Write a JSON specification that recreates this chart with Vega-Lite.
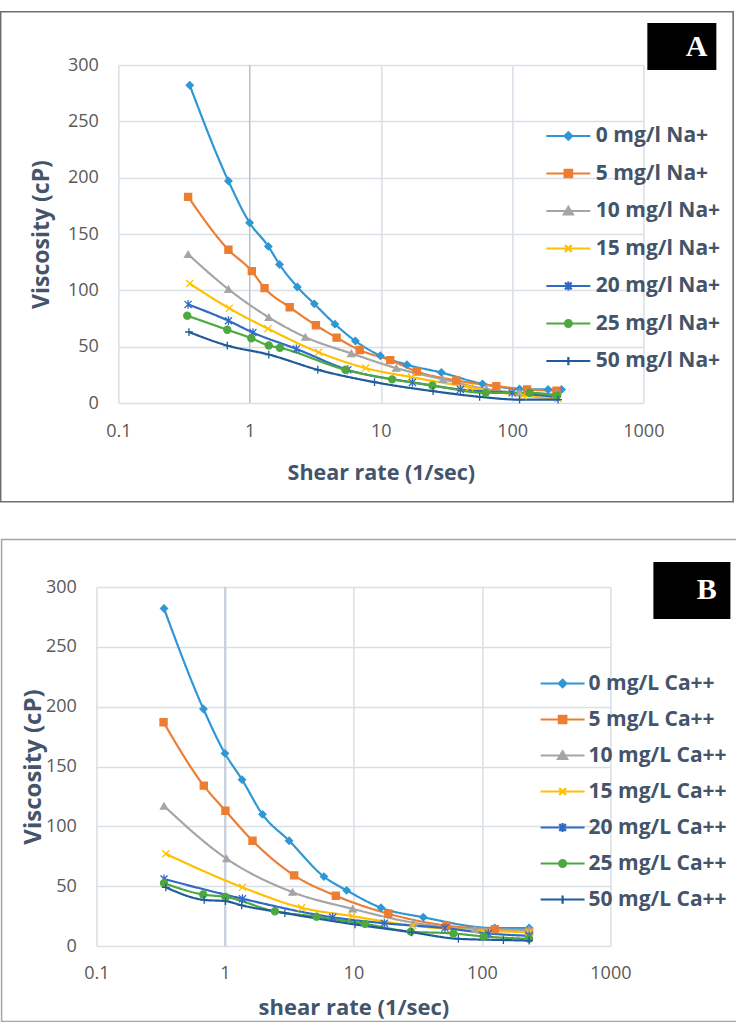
{
  "$schema": "https://vega.github.io/schema/vega-lite/v6.json",
  "background": "white",
  "padding": {"left": 0, "top": 11, "right": 0, "bottom": 0},
  "spacing": 36,
  "center": true,
  "resolve": {"scale": {"color": "independent", "fill": "independent", "stroke": "independent", "shape": "independent", "strokeDash": "independent", "x": "independent", "y": "independent"},
              "legend": {"color": "independent", "fill": "independent", "stroke": "independent", "shape": "independent", "strokeDash": "independent"}},
  "datasets": {
    "na": [
      {"series": "0 mg/l Na+", "shear": 0.35, "viscosity": 282},
      {"series": "0 mg/l Na+", "shear": 0.69, "viscosity": 197},
      {"series": "0 mg/l Na+", "shear": 1.0, "viscosity": 160},
      {"series": "0 mg/l Na+", "shear": 1.39, "viscosity": 139},
      {"series": "0 mg/l Na+", "shear": 1.69, "viscosity": 123},
      {"series": "0 mg/l Na+", "shear": 2.31, "viscosity": 103},
      {"series": "0 mg/l Na+", "shear": 3.11, "viscosity": 88},
      {"series": "0 mg/l Na+", "shear": 4.47, "viscosity": 70},
      {"series": "0 mg/l Na+", "shear": 6.4, "viscosity": 55},
      {"series": "0 mg/l Na+", "shear": 9.9, "viscosity": 42},
      {"series": "0 mg/l Na+", "shear": 15.8, "viscosity": 34},
      {"series": "0 mg/l Na+", "shear": 28.9, "viscosity": 27},
      {"series": "0 mg/l Na+", "shear": 59.4, "viscosity": 17},
      {"series": "0 mg/l Na+", "shear": 114, "viscosity": 12.5},
      {"series": "0 mg/l Na+", "shear": 188, "viscosity": 12},
      {"series": "0 mg/l Na+", "shear": 238, "viscosity": 12},
      {"series": "5 mg/l Na+", "shear": 0.34, "viscosity": 183},
      {"series": "5 mg/l Na+", "shear": 0.69, "viscosity": 136},
      {"series": "5 mg/l Na+", "shear": 1.04, "viscosity": 117},
      {"series": "5 mg/l Na+", "shear": 1.3, "viscosity": 102},
      {"series": "5 mg/l Na+", "shear": 2.02, "viscosity": 85},
      {"series": "5 mg/l Na+", "shear": 3.2, "viscosity": 69},
      {"series": "5 mg/l Na+", "shear": 4.6, "viscosity": 58},
      {"series": "5 mg/l Na+", "shear": 6.9, "viscosity": 47},
      {"series": "5 mg/l Na+", "shear": 11.8, "viscosity": 38},
      {"series": "5 mg/l Na+", "shear": 18.8, "viscosity": 28},
      {"series": "5 mg/l Na+", "shear": 37.6, "viscosity": 20},
      {"series": "5 mg/l Na+", "shear": 75.9, "viscosity": 15},
      {"series": "5 mg/l Na+", "shear": 130, "viscosity": 12},
      {"series": "5 mg/l Na+", "shear": 218, "viscosity": 11},
      {"series": "10 mg/l Na+", "shear": 0.34, "viscosity": 132},
      {"series": "10 mg/l Na+", "shear": 0.69, "viscosity": 101},
      {"series": "10 mg/l Na+", "shear": 1.4, "viscosity": 76},
      {"series": "10 mg/l Na+", "shear": 2.66, "viscosity": 58.5},
      {"series": "10 mg/l Na+", "shear": 5.96, "viscosity": 44},
      {"series": "10 mg/l Na+", "shear": 13.1, "viscosity": 31},
      {"series": "10 mg/l Na+", "shear": 29.7, "viscosity": 21},
      {"series": "10 mg/l Na+", "shear": 63.7, "viscosity": 12.5},
      {"series": "10 mg/l Na+", "shear": 114, "viscosity": 9},
      {"series": "10 mg/l Na+", "shear": 218, "viscosity": 8},
      {"series": "15 mg/l Na+", "shear": 0.35, "viscosity": 106},
      {"series": "15 mg/l Na+", "shear": 0.7, "viscosity": 84},
      {"series": "15 mg/l Na+", "shear": 1.38, "viscosity": 66},
      {"series": "15 mg/l Na+", "shear": 3.36, "viscosity": 45},
      {"series": "15 mg/l Na+", "shear": 7.66, "viscosity": 31},
      {"series": "15 mg/l Na+", "shear": 17.1, "viscosity": 23},
      {"series": "15 mg/l Na+", "shear": 47.5, "viscosity": 14},
      {"series": "15 mg/l Na+", "shear": 121, "viscosity": 6.5},
      {"series": "15 mg/l Na+", "shear": 224, "viscosity": 4},
      {"series": "20 mg/l Na+", "shear": 0.34, "viscosity": 87.5},
      {"series": "20 mg/l Na+", "shear": 0.69, "viscosity": 73},
      {"series": "20 mg/l Na+", "shear": 1.06, "viscosity": 62.5},
      {"series": "20 mg/l Na+", "shear": 2.27, "viscosity": 48},
      {"series": "20 mg/l Na+", "shear": 5.6, "viscosity": 29.5},
      {"series": "20 mg/l Na+", "shear": 17.4, "viscosity": 18.3},
      {"series": "20 mg/l Na+", "shear": 40.4, "viscosity": 12},
      {"series": "20 mg/l Na+", "shear": 100, "viscosity": 9},
      {"series": "20 mg/l Na+", "shear": 218, "viscosity": 5.5},
      {"series": "25 mg/l Na+", "shear": 0.335, "viscosity": 77.5},
      {"series": "25 mg/l Na+", "shear": 0.676, "viscosity": 65},
      {"series": "25 mg/l Na+", "shear": 1.03, "viscosity": 57.5},
      {"series": "25 mg/l Na+", "shear": 1.4, "viscosity": 51},
      {"series": "25 mg/l Na+", "shear": 1.7, "viscosity": 49},
      {"series": "25 mg/l Na+", "shear": 5.37, "viscosity": 29.5},
      {"series": "25 mg/l Na+", "shear": 12.2, "viscosity": 21},
      {"series": "25 mg/l Na+", "shear": 24.7, "viscosity": 15.6},
      {"series": "25 mg/l Na+", "shear": 62.9, "viscosity": 9},
      {"series": "25 mg/l Na+", "shear": 136, "viscosity": 9},
      {"series": "25 mg/l Na+", "shear": 220, "viscosity": 6.5},
      {"series": "50 mg/l Na+", "shear": 0.345, "viscosity": 63},
      {"series": "50 mg/l Na+", "shear": 0.676, "viscosity": 51},
      {"series": "50 mg/l Na+", "shear": 1.4, "viscosity": 43},
      {"series": "50 mg/l Na+", "shear": 3.31, "viscosity": 29.5},
      {"series": "50 mg/l Na+", "shear": 8.95, "viscosity": 18.5},
      {"series": "50 mg/l Na+", "shear": 25, "viscosity": 10.5},
      {"series": "50 mg/l Na+", "shear": 56.6, "viscosity": 5.5},
      {"series": "50 mg/l Na+", "shear": 114, "viscosity": 3},
      {"series": "50 mg/l Na+", "shear": 224, "viscosity": 3}
    ],
    "ca": [
      {"series": "0 mg/L Ca++", "shear": 0.336, "viscosity": 282},
      {"series": "0 mg/L Ca++", "shear": 0.681, "viscosity": 198},
      {"series": "0 mg/L Ca++", "shear": 1.0, "viscosity": 161},
      {"series": "0 mg/L Ca++", "shear": 1.36, "viscosity": 139},
      {"series": "0 mg/L Ca++", "shear": 1.96, "viscosity": 110},
      {"series": "0 mg/L Ca++", "shear": 3.16, "viscosity": 88},
      {"series": "0 mg/L Ca++", "shear": 5.89, "viscosity": 58},
      {"series": "0 mg/L Ca++", "shear": 8.85, "viscosity": 46.5},
      {"series": "0 mg/L Ca++", "shear": 16.4, "viscosity": 32},
      {"series": "0 mg/L Ca++", "shear": 35, "viscosity": 24},
      {"series": "0 mg/L Ca++", "shear": 126, "viscosity": 15},
      {"series": "0 mg/L Ca++", "shear": 233, "viscosity": 15},
      {"series": "5 mg/L Ca++", "shear": 0.333, "viscosity": 187},
      {"series": "5 mg/L Ca++", "shear": 0.685, "viscosity": 134},
      {"series": "5 mg/L Ca++", "shear": 1.01, "viscosity": 113},
      {"series": "5 mg/L Ca++", "shear": 1.64, "viscosity": 88},
      {"series": "5 mg/L Ca++", "shear": 3.46, "viscosity": 59},
      {"series": "5 mg/L Ca++", "shear": 7.3, "viscosity": 42},
      {"series": "5 mg/L Ca++", "shear": 18.7, "viscosity": 27},
      {"series": "5 mg/L Ca++", "shear": 53, "viscosity": 17},
      {"series": "5 mg/L Ca++", "shear": 126, "viscosity": 14},
      {"series": "5 mg/L Ca++", "shear": 233, "viscosity": 12},
      {"series": "10 mg/L Ca++", "shear": 0.336, "viscosity": 117},
      {"series": "10 mg/L Ca++", "shear": 1.03, "viscosity": 73},
      {"series": "10 mg/L Ca++", "shear": 3.36, "viscosity": 45},
      {"series": "10 mg/L Ca++", "shear": 9.87, "viscosity": 31},
      {"series": "10 mg/L Ca++", "shear": 29.3, "viscosity": 19.5},
      {"series": "10 mg/L Ca++", "shear": 88, "viscosity": 14},
      {"series": "10 mg/L Ca++", "shear": 233, "viscosity": 13.5},
      {"series": "15 mg/L Ca++", "shear": 0.347, "viscosity": 77},
      {"series": "15 mg/L Ca++", "shear": 1.37, "viscosity": 49},
      {"series": "15 mg/L Ca++", "shear": 3.95, "viscosity": 32},
      {"series": "15 mg/L Ca++", "shear": 9.8, "viscosity": 25},
      {"series": "15 mg/L Ca++", "shear": 29, "viscosity": 17},
      {"series": "15 mg/L Ca++", "shear": 233, "viscosity": 11.5},
      {"series": "20 mg/L Ca++", "shear": 0.336, "viscosity": 56},
      {"series": "20 mg/L Ca++", "shear": 1.37, "viscosity": 39.5},
      {"series": "20 mg/L Ca++", "shear": 6.89, "viscosity": 24},
      {"series": "20 mg/L Ca++", "shear": 17.4, "viscosity": 19},
      {"series": "20 mg/L Ca++", "shear": 51.6, "viscosity": 15},
      {"series": "20 mg/L Ca++", "shear": 112, "viscosity": 10.5},
      {"series": "20 mg/L Ca++", "shear": 233, "viscosity": 8.5},
      {"series": "25 mg/L Ca++", "shear": 0.336, "viscosity": 52.5},
      {"series": "25 mg/L Ca++", "shear": 0.678, "viscosity": 43},
      {"series": "25 mg/L Ca++", "shear": 1.01, "viscosity": 41},
      {"series": "25 mg/L Ca++", "shear": 2.45, "viscosity": 29},
      {"series": "25 mg/L Ca++", "shear": 5.17, "viscosity": 24.5},
      {"series": "25 mg/L Ca++", "shear": 12.3, "viscosity": 18.5},
      {"series": "25 mg/L Ca++", "shear": 28, "viscosity": 12},
      {"series": "25 mg/L Ca++", "shear": 60, "viscosity": 10.5},
      {"series": "25 mg/L Ca++", "shear": 103, "viscosity": 8},
      {"series": "25 mg/L Ca++", "shear": 233, "viscosity": 6},
      {"series": "50 mg/L Ca++", "shear": 0.347, "viscosity": 49},
      {"series": "50 mg/L Ca++", "shear": 0.69, "viscosity": 38.5},
      {"series": "50 mg/L Ca++", "shear": 1.01, "viscosity": 37.5},
      {"series": "50 mg/L Ca++", "shear": 1.35, "viscosity": 34},
      {"series": "50 mg/L Ca++", "shear": 2.93, "viscosity": 27.5},
      {"series": "50 mg/L Ca++", "shear": 10.3, "viscosity": 18},
      {"series": "50 mg/L Ca++", "shear": 28.4, "viscosity": 11.5},
      {"series": "50 mg/L Ca++", "shear": 65.6, "viscosity": 6},
      {"series": "50 mg/L Ca++", "shear": 147, "viscosity": 5},
      {"series": "50 mg/L Ca++", "shear": 233, "viscosity": 4.5}
    ]
  },
  "vconcat": [
    {
      "width": 525,
      "height": 338,
      "data": {"name": "na"},
      "layer": [
        {
          "data": {"values": [{"line": "value axis"}]},
          "mark": {"type": "rule", "color": "#b5bfcd", "strokeWidth": 1.2},
          "encoding": {"x": {"datum": 1, "type": "quantitative"}}
        },
        {
          "data": {"values": [{"frame": "panel A"}]},
          "mark": {"type": "point", "size": 0, "filled": true},
          "encoding": {
            "fill": {"datum": 0.5, "type": "quantitative", "scale": {"domain": [0, 1], "range": ["rgba(255,255,255,0)", "rgba(255,255,255,0)"]},
                     "legend": {"orient": "none", "legendX": -117.7, "legendY": -53.3, "direction": "vertical", "gradientLength": 490, "gradientThickness": 732.5,
                                "gradientStrokeColor": "#333333", "gradientStrokeWidth": 1.6, "title": null, "values": [0.5], "labelExpr": "''", "labelOffset": 0, "labelFontSize": 1, "padding": 0}}
          }
        },
        {
          "mark": {"type": "line", "interpolate": "monotone", "strokeWidth": 2.2},
          "encoding": {
            "x": {"field": "shear", "type": "quantitative", "scale": {"type": "log", "domain": [0.1, 1000], "nice": false},
                  "axis": {"values": [0.1, 1, 10, 100, 1000], "format": "~g", "title": "Shear rate (1/sec)", "labelPadding": 19, "titlePadding": 22, "titleFontSize": 21.5}},
            "y": {"field": "viscosity", "type": "quantitative", "scale": {"domain": [0, 300], "nice": false},
                  "axis": {"values": [0, 50, 100, 150, 200, 250, 300], "format": "d", "title": "Viscosity (cP)", "labelPadding": 20, "titlePadding": 14, "titleFontSize": 23}},
            "color": {"field": "series", "type": "nominal",
                      "scale": {"domain": ["0 mg/l Na+", "5 mg/l Na+", "10 mg/l Na+", "15 mg/l Na+", "20 mg/l Na+", "25 mg/l Na+", "50 mg/l Na+"],
                                "range": ["#2F97D4", "#ED7D31", "#A5A5A5", "#FFC000", "#3169C6", "#4CA83F", "#1F5C99"]},
                      "legend": {"orient": "none", "legendX": 424.5, "legendY": 60.5, "title": null, "padding": 0, "symbolSize": 225, "symbolOffset": 15, "labelOffset": 17, "labelFontSize": 21, "rowPadding": 15.5, "symbolStrokeWidth": 2.2, "symbolOpacity": 1,
                                 "encode": {"symbols": {"update": {
                                   "shape": {"signal": "['M-2.93,0L2.93,0M0,-0.5L0.5,0L0,0.5L-0.5,0Z','M-2.93,0L2.93,0M-0.5,-0.5L0.5,-0.5L0.5,0.5L-0.5,0.5Z','M-2.93,0L2.93,0M0,-0.55L0.6,0.45L-0.6,0.45Z','M-2.93,0L2.93,0M-0.45,-0.45L0.45,0.45M-0.45,0.45L0.45,-0.45','M-2.93,0L2.93,0M-0.45,-0.45L0.45,0.45M-0.45,0.45L0.45,-0.45M0,-0.6L0,0.6','M-2.93,0L2.93,0M-0.45,0A0.45,0.45,0,1,0,0.45,0A0.45,0.45,0,1,0,-0.45,0Z','M-2.93,0L2.93,0M0,-0.55L0,0.55'][datum.index]"},
                                   "strokeWidth": {"value": 2.2},
                                   "size": {"value": 225}
                                 }}}}},
            "strokeDash": {"datum": "A", "type": "nominal", "scale": {"range": [[1, 0]]},
                           "legend": {"orient": "none", "legendX": 529, "legendY": -42, "title": null, "padding": 8.5, "fillColor": "black", "symbolSize": 0, "symbolOpacity": 0, "labelOffset": 0,
                                      "labelExpr": "'\u2002A\u2002'", "labelColor": "white", "labelFont": "Liberation Serif", "labelFontSize": 30, "labelFontWeight": "bold"}}
          }
        },
        {
          "mark": {"type": "point", "filled": true, "size": 50, "strokeWidth": 1.3, "opacity": 1},
          "encoding": {
            "x": {"field": "shear", "type": "quantitative"},
            "y": {"field": "viscosity", "type": "quantitative"},
            "color": {"field": "series", "type": "nominal",
                      "scale": {"domain": ["0 mg/l Na+", "5 mg/l Na+", "10 mg/l Na+", "15 mg/l Na+", "20 mg/l Na+", "25 mg/l Na+", "50 mg/l Na+"],
                                "range": ["#2F97D4", "#ED7D31", "#A5A5A5", "#FFC000", "#3169C6", "#4CA83F", "#1F5C99"]},
                      "legend": {"orient": "none", "legendX": 424.5, "legendY": 60.5, "title": null, "padding": 0, "symbolSize": 225, "symbolOffset": 15, "labelOffset": 17, "labelFontSize": 21, "rowPadding": 15.5, "symbolStrokeWidth": 2.2, "symbolOpacity": 1,
                                 "encode": {"symbols": {"update": {
                                   "shape": {"signal": "['M-2.93,0L2.93,0M0,-0.5L0.5,0L0,0.5L-0.5,0Z','M-2.93,0L2.93,0M-0.5,-0.5L0.5,-0.5L0.5,0.5L-0.5,0.5Z','M-2.93,0L2.93,0M0,-0.55L0.6,0.45L-0.6,0.45Z','M-2.93,0L2.93,0M-0.45,-0.45L0.45,0.45M-0.45,0.45L0.45,-0.45','M-2.93,0L2.93,0M-0.45,-0.45L0.45,0.45M-0.45,0.45L0.45,-0.45M0,-0.6L0,0.6','M-2.93,0L2.93,0M-0.45,0A0.45,0.45,0,1,0,0.45,0A0.45,0.45,0,1,0,-0.45,0Z','M-2.93,0L2.93,0M0,-0.55L0,0.55'][datum.index]"},
                                   "strokeWidth": {"value": 2.2},
                                   "size": {"value": 225}
                                 }}}}},
            "stroke": {"field": "series", "type": "nominal",
                       "sort": ["0 mg/l Na+", "5 mg/l Na+", "10 mg/l Na+", "15 mg/l Na+", "20 mg/l Na+", "25 mg/l Na+", "50 mg/l Na+"],
                       "scale": {"range": ["#2F97D4", "#ED7D31", "#A5A5A5", "#FFC000", "#3169C6", "#4CA83F", "#1F5C99"]},
                       "legend": null},
            "shape": {"field": "series", "type": "nominal",
                      "sort": ["0 mg/l Na+", "5 mg/l Na+", "10 mg/l Na+", "15 mg/l Na+", "20 mg/l Na+", "25 mg/l Na+", "50 mg/l Na+"],
                      "scale": {"range": ["diamond", "square", "triangle-up", "M-1,-1L1,1M-1,1L1,-1", "M-1,-1L1,1M-1,1L1,-1M0,-1.25L0,1.25", "circle", "M-1.1,0L1.1,0M0,-1.1L0,1.1"]},
                      "legend": null}
          }
        }
      ]
    },
    {
      "width": 514,
      "height": 359,
      "data": {"name": "ca"},
      "layer": [
        {
          "data": {"values": [{"line": "value axis"}]},
          "mark": {"type": "rule", "color": "#b5bfcd", "strokeWidth": 1.2},
          "encoding": {"x": {"datum": 1, "type": "quantitative"}}
        },
        {
          "data": {"values": [{"frame": "panel B"}]},
          "mark": {"type": "point", "size": 0, "filled": true},
          "encoding": {
            "fill": {"datum": 0.5, "type": "quantitative", "scale": {"domain": [0, 1], "range": ["rgba(255,255,255,0)", "rgba(255,255,255,0)"]},
                     "legend": {"orient": "none", "legendX": -94.8, "legendY": -47.5, "direction": "vertical", "gradientLength": 482, "gradientThickness": 754.2,
                                "gradientStrokeColor": "#808080", "gradientStrokeWidth": 1.5, "title": null, "values": [0.5], "labelExpr": "''", "labelOffset": 0, "labelFontSize": 1, "padding": 0}}
          }
        },
        {
          "mark": {"type": "line", "interpolate": "monotone", "strokeWidth": 2.2},
          "encoding": {
            "x": {"field": "shear", "type": "quantitative", "scale": {"type": "log", "domain": [0.1, 1000], "nice": false},
                  "axis": {"values": [0.1, 1, 10, 100, 1000], "format": "~g", "title": "shear rate (1/sec)", "labelPadding": 18.7, "titlePadding": 15, "titleFontSize": 22}},
            "y": {"field": "viscosity", "type": "quantitative", "scale": {"domain": [0, 300], "nice": false},
                  "axis": {"values": [0, 50, 100, 150, 200, 250, 300], "format": "d", "title": "Viscosity (cP)", "labelPadding": 20, "titlePadding": 0, "titleFontSize": 24}},
            "color": {"field": "series", "type": "nominal",
                      "scale": {"domain": ["0 mg/L Ca++", "5 mg/L Ca++", "10 mg/L Ca++", "15 mg/L Ca++", "20 mg/L Ca++", "25 mg/L Ca++", "50 mg/L Ca++"],
                                "range": ["#2F97D4", "#ED7D31", "#A5A5A5", "#FFC000", "#3169C6", "#4CA83F", "#1F5C99"]},
                      "legend": {"orient": "none", "legendX": 440.7, "legendY": 86, "title": null, "padding": 0, "symbolSize": 225, "symbolOffset": 15, "labelOffset": 15.5, "labelFontSize": 21, "rowPadding": 14.0, "symbolStrokeWidth": 2.2, "symbolOpacity": 1,
                                 "encode": {"symbols": {"update": {
                                   "shape": {"signal": "['M-2.93,0L2.93,0M0,-0.5L0.5,0L0,0.5L-0.5,0Z','M-2.93,0L2.93,0M-0.5,-0.5L0.5,-0.5L0.5,0.5L-0.5,0.5Z','M-2.93,0L2.93,0M0,-0.55L0.6,0.45L-0.6,0.45Z','M-2.93,0L2.93,0M-0.45,-0.45L0.45,0.45M-0.45,0.45L0.45,-0.45','M-2.93,0L2.93,0M-0.45,-0.45L0.45,0.45M-0.45,0.45L0.45,-0.45M0,-0.6L0,0.6','M-2.93,0L2.93,0M-0.45,0A0.45,0.45,0,1,0,0.45,0A0.45,0.45,0,1,0,-0.45,0Z','M-2.93,0L2.93,0M0,-0.55L0,0.55'][datum.index]"},
                                   "strokeWidth": {"value": 2.2},
                                   "size": {"value": 225}
                                 }}}}},
            "strokeDash": {"datum": "B", "type": "nominal", "scale": {"range": [[1, 0]]},
                           "legend": {"orient": "none", "legendX": 557, "legendY": -25, "title": null, "padding": 13.3, "fillColor": "black", "symbolSize": 0, "symbolOpacity": 0, "labelOffset": 0,
                                      "labelExpr": "'\u2002B\u2002'", "labelColor": "white", "labelFont": "Liberation Serif", "labelFontSize": 30, "labelFontWeight": "bold"}}
          }
        },
        {
          "mark": {"type": "point", "filled": true, "size": 50, "strokeWidth": 1.3, "opacity": 1},
          "encoding": {
            "x": {"field": "shear", "type": "quantitative"},
            "y": {"field": "viscosity", "type": "quantitative"},
            "color": {"field": "series", "type": "nominal",
                      "scale": {"domain": ["0 mg/L Ca++", "5 mg/L Ca++", "10 mg/L Ca++", "15 mg/L Ca++", "20 mg/L Ca++", "25 mg/L Ca++", "50 mg/L Ca++"],
                                "range": ["#2F97D4", "#ED7D31", "#A5A5A5", "#FFC000", "#3169C6", "#4CA83F", "#1F5C99"]},
                      "legend": {"orient": "none", "legendX": 440.7, "legendY": 86, "title": null, "padding": 0, "symbolSize": 225, "symbolOffset": 15, "labelOffset": 15.5, "labelFontSize": 21, "rowPadding": 14.0, "symbolStrokeWidth": 2.2, "symbolOpacity": 1,
                                 "encode": {"symbols": {"update": {
                                   "shape": {"signal": "['M-2.93,0L2.93,0M0,-0.5L0.5,0L0,0.5L-0.5,0Z','M-2.93,0L2.93,0M-0.5,-0.5L0.5,-0.5L0.5,0.5L-0.5,0.5Z','M-2.93,0L2.93,0M0,-0.55L0.6,0.45L-0.6,0.45Z','M-2.93,0L2.93,0M-0.45,-0.45L0.45,0.45M-0.45,0.45L0.45,-0.45','M-2.93,0L2.93,0M-0.45,-0.45L0.45,0.45M-0.45,0.45L0.45,-0.45M0,-0.6L0,0.6','M-2.93,0L2.93,0M-0.45,0A0.45,0.45,0,1,0,0.45,0A0.45,0.45,0,1,0,-0.45,0Z','M-2.93,0L2.93,0M0,-0.55L0,0.55'][datum.index]"},
                                   "strokeWidth": {"value": 2.2},
                                   "size": {"value": 225}
                                 }}}}},
            "stroke": {"field": "series", "type": "nominal",
                       "sort": ["0 mg/L Ca++", "5 mg/L Ca++", "10 mg/L Ca++", "15 mg/L Ca++", "20 mg/L Ca++", "25 mg/L Ca++", "50 mg/L Ca++"],
                       "scale": {"range": ["#2F97D4", "#ED7D31", "#A5A5A5", "#FFC000", "#3169C6", "#4CA83F", "#1F5C99"]},
                       "legend": null},
            "shape": {"field": "series", "type": "nominal",
                      "sort": ["0 mg/L Ca++", "5 mg/L Ca++", "10 mg/L Ca++", "15 mg/L Ca++", "20 mg/L Ca++", "25 mg/L Ca++", "50 mg/L Ca++"],
                      "scale": {"range": ["diamond", "square", "triangle-up", "M-1,-1L1,1M-1,1L1,-1", "M-1,-1L1,1M-1,1L1,-1M0,-1.25L0,1.25", "circle", "M-1.1,0L1.1,0M0,-1.1L0,1.1"]},
                      "legend": null}
          }
        }
      ]
    }
  ],
  "config": {
    "font": "Open Sans",
    "view": {"stroke": null},
    "axis": {"domain": false, "ticks": false, "grid": true, "gridColor": "#d9dfe7", "gridWidth": 1.5,
             "labelFont": "Open Sans", "labelFontSize": 18, "labelColor": "#595959", "labelFlush": false, "labelOverlap": false, "labelBound": false,
             "titleFont": "Open Sans", "titleFontWeight": "bold", "titleColor": "#44546A"},
    "legend": {"labelFont": "Open Sans", "labelFontWeight": "bold", "labelColor": "#44546A", "labelLimit": 300}
  }
}
